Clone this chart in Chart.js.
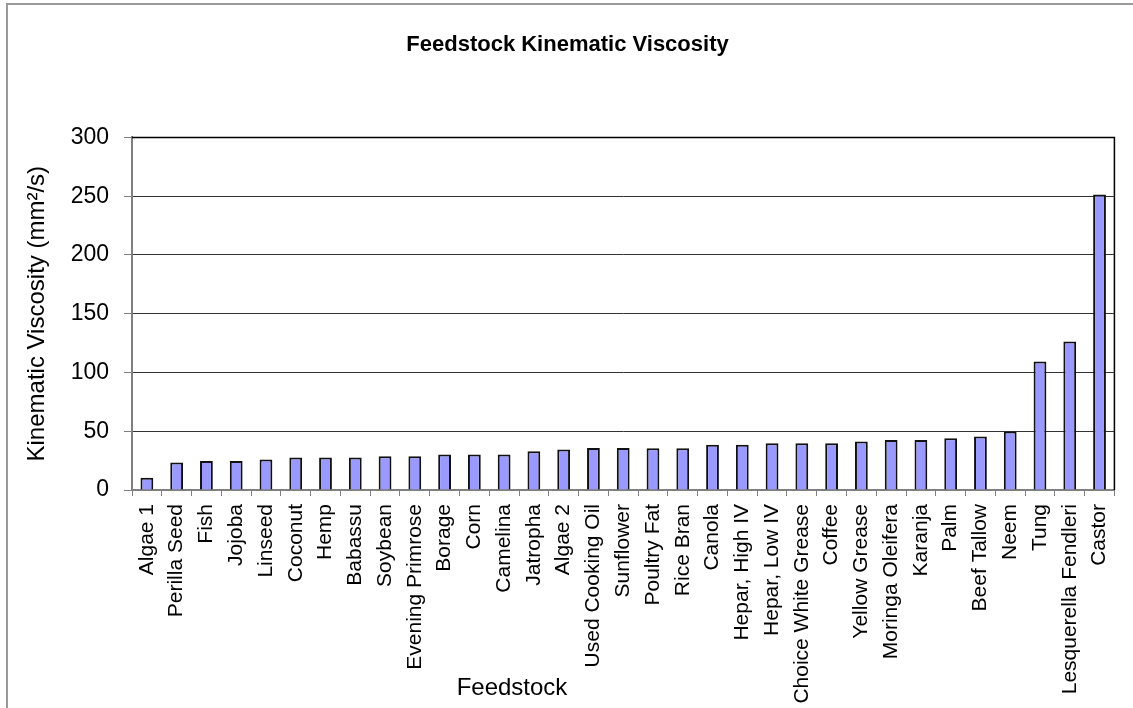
<!DOCTYPE html>
<html>
<head>
<meta charset="utf-8">
<style>
  html, body { margin: 0; padding: 0; background: #ffffff; }
  #wrap { width: 1133px; height: 708px; position: relative; }
</style>
<script src="https://cdn.jsdelivr.net/npm/chart.js@4.4.1/dist/chart.umd.min.js"></script>
</head>
<body>
<div id="wrap"><canvas id="c" width="1133" height="708"></canvas></div>
<script>
// ---- Data ----
const categories = [
  'Algae 1', 'Perilla Seed', 'Fish', 'Jojoba', 'Linseed', 'Coconut', 'Hemp',
  'Babassu', 'Soybean', 'Evening Primrose', 'Borage', 'Corn', 'Camelina',
  'Jatropha', 'Algae 2', 'Used Cooking Oil', 'Sunflower', 'Poultry Fat',
  'Rice Bran', 'Canola', 'Hepar, High IV', 'Hepar, Low IV', 'Choice White Grease',
  'Coffee', 'Yellow Grease', 'Moringa Oleifera', 'Karanja', 'Palm', 'Beef Tallow',
  'Neem', 'Tung', 'Lesquerella Fendleri', 'Castor'
];
const viscosity = [
  10.5, 23.3, 24.7, 24.7, 25.9, 27.6, 27.6,
  27.6, 28.7, 28.7, 30.1, 30.1, 30.1,
  33.0, 34.4, 35.8, 35.8, 35.5,
  35.5, 38.4, 38.4, 39.8, 39.8,
  39.8, 41.2, 42.6, 42.6, 44.0, 45.5,
  49.7, 109.4, 126.4, 251.5
];
const yTickValues = [0, 50, 100, 150, 200, 250, 300];
const chartTitle = 'Feedstock Kinematic Viscosity';
const yAxisTitle = 'Kinematic Viscosity (mm\u00B2/s)';
const xAxisTitle = 'Feedstock';

const FONT = "'Liberation Sans', Arial, Helvetica, sans-serif";

// Decorations: outer chart frame, plot frame, x-axis title
const decorPlugin = {
  id: 'decor',
  beforeDraw(chart) {
    const ctx = chart.ctx;
    ctx.save();
    ctx.fillStyle = '#ffffff';
    ctx.fillRect(0, 0, chart.width, chart.height);
    ctx.strokeStyle = '#9a9a9a';
    ctx.lineWidth = 2;
    ctx.beginPath();
    ctx.moveTo(7, chart.height);
    ctx.lineTo(7, 4);
    ctx.lineTo(chart.width, 4);
    ctx.stroke();
    ctx.restore();
  },
  afterDraw(chart) {
    const ctx = chart.ctx;
    const a = chart.chartArea;
    ctx.save();
    ctx.strokeStyle = '#000000';
    ctx.lineWidth = 1.5;
    ctx.beginPath();
    ctx.moveTo(a.left, a.top);
    ctx.lineTo(a.right, a.top);
    ctx.lineTo(a.right, a.bottom);
    ctx.stroke();
    // x-axis title (manually positioned like the original)
    ctx.fillStyle = '#000000';
    ctx.font = '24px ' + FONT;
    ctx.textAlign = 'center';
    ctx.textBaseline = 'middle';
    ctx.fillText(xAxisTitle, a.left + 380, 688);
    ctx.restore();
  }
};

new Chart(document.getElementById('c'), {
  type: 'bar',
  data: {
    labels: categories,
    datasets: [{
      data: viscosity,
      backgroundColor: '#9999FF',
      borderColor: '#111111',
      borderWidth: 2,
      borderSkipped: 'bottom',
      categoryPercentage: 1.0,
      barPercentage: 0.43
    }]
  },
  options: {
    responsive: false,
    animation: false,
    devicePixelRatio: 1,
    layout: { padding: { left: 20, right: 18, top: 0, bottom: 0 } },
    plugins: {
      legend: { display: false },
      tooltip: { enabled: false },
      title: {
        display: true,
        text: chartTitle,
        color: '#000000',
        font: { family: FONT, size: 22, weight: 'bold' },
        padding: { top: 32, bottom: 79 }
      }
    },
    scales: {
      x: {
        afterFit(scale) { scale.height = 218; },
        grid: {
          display: true,
          drawOnChartArea: false,
          drawTicks: true,
          tickLength: 6,
          tickColor: '#808080',
          offset: true
        },
        border: { display: true, color: '#808080', width: 2 },
        ticks: {
          autoSkip: false,
          maxRotation: 90,
          minRotation: 90,
          padding: 8,
          color: '#000000',
          font: { family: FONT, size: 21 }
        }
      },
      y: {
        min: 0,
        max: 300,
        afterFit(scale) { scale.width = 112; },
        afterBuildTicks(scale) { scale.ticks = yTickValues.map(v => ({ value: v })); },
        grid: {
          color: '#333333',
          lineWidth: 1,
          drawTicks: true,
          tickLength: 8,
          tickColor: '#808080'
        },
        border: { display: true, color: '#808080', width: 2 },
        ticks: {
          padding: 15,
          color: '#000000',
          font: { family: FONT, size: 23 }
        },
        title: {
          display: true,
          text: yAxisTitle,
          color: '#000000',
          font: { family: FONT, size: 24 },
          padding: { top: 3, bottom: 0 }
        }
      }
    }
  },
  plugins: [decorPlugin]
});
</script>
</body>
</html>
